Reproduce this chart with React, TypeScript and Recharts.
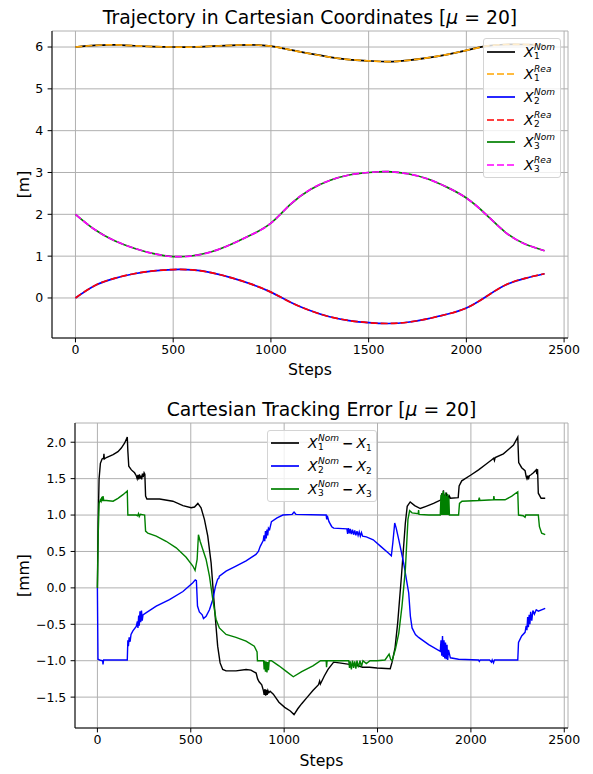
import React from 'react';
import { LineChart, Line, XAxis, YAxis, CartesianGrid, Legend } from 'recharts';

const FONT = "'DejaVu Sans', 'Liberation Sans', sans-serif";

// ---------- Trajectory in Cartesian coordinates (metres) ----------
const steps = [0, 100, 200, 300, 400, 500, 600, 700, 800, 900, 1000, 1100, 1200, 1300, 1400, 1500, 1600, 1700, 1800, 1900, 2000, 2100, 2200, 2300, 2400];
const x1Nom = [6.0, 6.04, 6.05, 6.03, 6.01, 6.0, 6.0, 6.02, 6.04, 6.05, 6.02, 5.93, 5.84, 5.76, 5.7, 5.67, 5.65, 5.68, 5.74, 5.82, 5.92, 6.02, 6.06, 6.06, 6.05];
const x1Rea = [6.0, 6.04, 6.05, 6.03, 6.01, 6.0, 6.0, 6.02, 6.04, 6.05, 6.02, 5.93, 5.84, 5.76, 5.7, 5.67, 5.65, 5.68, 5.74, 5.82, 5.92, 6.02, 6.06, 6.06, 6.05];
const x2Nom = [0.0, 0.3, 0.47, 0.58, 0.65, 0.68, 0.67, 0.6, 0.48, 0.33, 0.14, -0.1, -0.3, -0.45, -0.54, -0.59, -0.61, -0.58, -0.5, -0.39, -0.24, 0.03, 0.31, 0.47, 0.58];
const x2Rea = [0.0, 0.3, 0.47, 0.58, 0.65, 0.68, 0.67, 0.6, 0.48, 0.33, 0.14, -0.1, -0.3, -0.45, -0.54, -0.59, -0.61, -0.58, -0.5, -0.39, -0.24, 0.03, 0.31, 0.47, 0.58];
const x3Nom = [2.0, 1.63, 1.37, 1.19, 1.06, 0.99, 1.01, 1.11, 1.29, 1.51, 1.79, 2.24, 2.59, 2.81, 2.94, 3.0, 3.02, 2.97, 2.85, 2.65, 2.39, 2.0, 1.57, 1.29, 1.13];
const x3Rea = [2.0, 1.63, 1.37, 1.19, 1.06, 0.99, 1.01, 1.11, 1.29, 1.51, 1.79, 2.24, 2.59, 2.81, 2.94, 3.0, 3.02, 2.97, 2.85, 2.65, 2.39, 2.0, 1.57, 1.29, 1.13];

// ---------- Tracking error (millimetres), [step, value] ----------
const err1: [number, number][] = [[0,0],[4,0.9],[9,1.5],[16,1.71],[25,1.77],[33,1.78],[35,1.84],[37,1.77],[48,1.79],[66,1.81],[84,1.83],[110,1.87],[128,1.92],[146,1.99],[160,2.07],[163,1.88],[168,1.67],[182,1.62],[199,1.58],[208,1.54],[213,1.5],[217,1.55],[221,1.49],[225,1.56],[229,1.5],[233,1.54],[237,1.49],[241,1.57],[245,1.52],[250,1.58],[254,1.56],[258,1.26],[265,1.22],[333,1.22],[404,1.19],[458,1.13],[502,1.1],[520,1.11],[538,1.16],[555,1.1],[573,0.94],[591,0.71],[609,0.34],[621,-0.07],[632,-0.43],[644,-0.8],[657,-1.03],[671,-1.12],[689,-1.14],[742,-1.14],[796,-1.12],[822,-1.13],[850,-1.17],[858,-1.25],[866,-1.29],[880,-1.33],[889,-1.41],[893,-1.47],[897,-1.39],[901,-1.48],[905,-1.4],[909,-1.47],[913,-1.41],[918,-1.44],[925,-1.42],[942,-1.46],[972,-1.57],[1003,-1.64],[1033,-1.69],[1053,-1.74],[1073,-1.66],[1094,-1.59],[1124,-1.5],[1154,-1.41],[1184,-1.33],[1190,-1.28],[1194,-1.32],[1215,-1.21],[1235,-1.12],[1265,-1.02],[1295,-1.03],[1350,-1.05],[1396,-1.07],[1420,-1.09],[1457,-1.09],[1497,-1.1],[1568,-1.11],[1578,-1.02],[1594,-0.82],[1608,-0.48],[1628,0.16],[1649,0.89],[1659,1.12],[1675,1.18],[1699,1.13],[1729,1.09],[1760,1.12],[1800,1.16],[1840,1.21],[1845,1.3],[1849,1.19],[1853,1.34],[1857,1.2],[1861,1.28],[1865,1.21],[1869,1.31],[1873,1.22],[1877,1.27],[1881,1.22],[1885,1.26],[1891,1.23],[1932,1.24],[1937,1.4],[1951,1.47],[2000,1.55],[2041,1.62],[2077,1.69],[2112,1.76],[2122,1.78],[2126,1.75],[2130,1.79],[2174,1.84],[2201,1.9],[2228,1.96],[2251,2.07],[2256,1.72],[2272,1.65],[2290,1.61],[2296,1.53],[2300,1.5],[2304,1.54],[2308,1.49],[2313,1.54],[2320,1.55],[2335,1.58],[2350,1.62],[2353,1.56],[2357,1.63],[2361,1.3],[2376,1.23],[2398,1.23]];

const err2: [number, number][] = [[0,0],[3,-0.98],[12,-0.99],[28,-1.0],[30,-1.05],[33,-0.99],[48,-0.99],[100,-0.99],[160,-0.99],[163,-0.72],[166,-0.8],[170,-0.68],[175,-0.74],[180,-0.64],[190,-0.59],[208,-0.53],[214,-0.46],[217,-0.55],[221,-0.38],[224,-0.52],[228,-0.32],[232,-0.47],[236,-0.31],[240,-0.45],[244,-0.37],[262,-0.34],[315,-0.25],[386,-0.16],[458,-0.05],[511,0.07],[524,0.11],[530,0.1],[536,-0.25],[546,-0.33],[561,-0.37],[568,-0.42],[582,-0.39],[600,-0.3],[618,-0.16],[632,0.02],[644,0.12],[650,0.13],[653,0.16],[689,0.23],[742,0.3],[796,0.37],[849,0.46],[862,0.5],[872,0.57],[888,0.65],[892,0.72],[896,0.64],[900,0.78],[904,0.68],[908,0.8],[912,0.72],[916,0.82],[922,0.8],[932,0.91],[962,0.96],[993,1.0],[1043,1.01],[1053,1.04],[1063,1.01],[1215,1.0],[1225,1.0],[1228,0.94],[1231,0.99],[1240,0.91],[1255,0.84],[1265,0.82],[1336,0.81],[1340,0.74],[1344,0.82],[1350,0.75],[1354,0.81],[1360,0.74],[1366,0.8],[1372,0.73],[1378,0.79],[1384,0.72],[1390,0.78],[1396,0.72],[1402,0.77],[1408,0.71],[1414,0.76],[1420,0.71],[1440,0.7],[1477,0.66],[1517,0.57],[1558,0.48],[1574,0.44],[1582,0.62],[1592,0.89],[1600,0.82],[1614,0.66],[1640,0.34],[1667,-0.07],[1676,-0.39],[1685,-0.55],[1703,-0.64],[1720,-0.68],[1774,-0.78],[1836,-0.87],[1840,-0.72],[1844,-0.93],[1848,-0.66],[1852,-0.95],[1856,-0.72],[1860,-0.97],[1864,-0.75],[1868,-0.98],[1872,-0.78],[1876,-0.99],[1880,-0.85],[1890,-0.96],[1934,-0.98],[2041,-0.99],[2045,-1.01],[2050,-0.99],[2100,-0.99],[2110,-1.02],[2114,-0.99],[2121,-1.03],[2126,-0.99],[2251,-0.99],[2255,-0.75],[2272,-0.66],[2290,-0.61],[2296,-0.52],[2300,-0.58],[2304,-0.4],[2308,-0.54],[2312,-0.37],[2316,-0.5],[2320,-0.33],[2326,-0.45],[2332,-0.31],[2340,-0.36],[2350,-0.3],[2361,-0.32],[2398,-0.28]];

const err3: [number, number][] = [[0,0],[4,0.7],[9,1.16],[16,1.21],[20,1.19],[24,1.25],[27,1.19],[30,1.26],[34,1.2],[48,1.2],[84,1.19],[110,1.23],[137,1.28],[160,1.33],[163,1.0],[208,1.0],[215,0.99],[220,1.02],[224,0.98],[230,1.01],[253,1.0],[258,0.78],[270,0.75],[315,0.71],[368,0.64],[422,0.55],[475,0.42],[511,0.3],[523,0.24],[534,0.39],[541,0.73],[550,0.64],[564,0.53],[582,0.39],[600,0.16],[618,-0.16],[635,-0.43],[653,-0.55],[689,-0.64],[742,-0.68],[796,-0.73],[840,-0.8],[855,-0.88],[857,-1.0],[890,-1.0],[893,-1.12],[896,-1.0],[900,-1.15],[904,-1.01],[908,-1.16],[912,-1.02],[916,-1.13],[920,-1.0],[932,-1.0],[972,-1.07],[1013,-1.15],[1049,-1.22],[1094,-1.15],[1154,-1.07],[1195,-1.0],[1225,-1.0],[1227,-1.09],[1230,-1.0],[1346,-1.0],[1350,-1.1],[1354,-1.01],[1360,-1.12],[1366,-1.0],[1372,-1.1],[1378,-1.01],[1384,-1.11],[1390,-1.0],[1398,-1.09],[1406,-1.0],[1414,-1.08],[1422,-1.0],[1440,-1.04],[1460,-1.0],[1497,-1.0],[1540,-0.99],[1562,-0.91],[1570,-0.98],[1578,-1.0],[1596,-0.84],[1614,-0.62],[1631,-0.25],[1649,0.25],[1663,0.94],[1672,1.06],[1685,1.03],[1718,1.02],[1720,1.07],[1722,1.01],[1774,1.0],[1836,1.0],[1840,1.28],[1843,1.0],[1846,1.3],[1849,1.0],[1852,1.33],[1855,1.0],[1858,1.27],[1861,1.0],[1864,1.31],[1867,1.0],[1870,1.26],[1873,1.0],[1876,1.29],[1879,1.0],[1882,1.24],[1885,1.0],[1934,1.0],[1939,1.16],[1952,1.19],[2041,1.2],[2045,1.24],[2048,1.2],[2121,1.21],[2123,1.26],[2126,1.21],[2183,1.21],[2219,1.26],[2251,1.32],[2255,1.0],[2280,0.99],[2290,0.97],[2294,1.0],[2361,1.0],[2367,0.84],[2379,0.75],[2398,0.73]];

// ---------- axis ticks ----------
const stepTicks = [0, 500, 1000, 1500, 2000, 2500];
const metreTicks = [0, 1, 2, 3, 4, 5, 6];
const mmTicks = [-1.5, -1.0, -0.5, 0.0, 0.5, 1.0, 1.5, 2.0];

const trajRows = steps.map((s, i) => ({
  step: s,
  x1Nom: x1Nom[i], x1Rea: x1Rea[i],
  x2Nom: x2Nom[i], x2Rea: x2Rea[i],
  x3Nom: x3Nom[i], x3Rea: x3Rea[i],
}));
const toRows = (arr: [number, number][]) => arr.map(([step, value]) => ({ step, value }));

const DASH = '7 3';
const tickStyle = { fontSize: 12.5, fill: '#000', fontFamily: FONT };
const minusFmt = (v: number) => (v < 0 ? '\u2212' : '') + Math.abs(v).toFixed(1);

type LegendRow = { color: string; dashed: boolean; idx: number; sup: string; diff?: boolean };

const trajLegend: LegendRow[] = [
  { color: '#000000', dashed: false, idx: 1, sup: 'Nom' },
  { color: '#ffa500', dashed: true, idx: 1, sup: 'Rea' },
  { color: '#0000ff', dashed: false, idx: 2, sup: 'Nom' },
  { color: '#ff0000', dashed: true, idx: 2, sup: 'Rea' },
  { color: '#008000', dashed: false, idx: 3, sup: 'Nom' },
  { color: '#ff00ff', dashed: true, idx: 3, sup: 'Rea' },
];
const errLegend: LegendRow[] = [
  { color: '#000000', dashed: false, idx: 1, sup: 'Nom', diff: true },
  { color: '#0000ff', dashed: false, idx: 2, sup: 'Nom', diff: true },
  { color: '#008000', dashed: false, idx: 3, sup: 'Nom', diff: true },
];

function MathLabel({ idx, sup, diff }: { idx: number; sup: string; diff?: boolean }) {
  return (
    <span style={{ display: 'inline-flex', alignItems: 'center', fontFamily: FONT, color: '#000', whiteSpace: 'nowrap' }}>
      <span style={{ fontStyle: 'italic', fontSize: 14 }}>X</span>
      <span style={{ display: 'inline-flex', flexDirection: 'column', fontSize: 9, lineHeight: '9px', marginLeft: 0.5 }}>
        <span style={{ fontStyle: 'italic' }}>{sup}</span>
        <span>{idx}</span>
      </span>
      {diff ? (
        <>
          <span style={{ fontSize: 13.5, fontWeight: 'bold', margin: '0 3px' }}>{'\u2212'}</span>
          <span style={{ fontStyle: 'italic', fontSize: 14 }}>X</span>
          <span style={{ fontSize: 9, alignSelf: 'flex-end', marginBottom: -1 }}>{idx}</span>
        </>
      ) : null}
    </span>
  );
}

function LegendBox({ rows, width, height, rowH, padTop }: { rows: LegendRow[]; width: number; height: number; rowH: number; padTop: number }) {
  return (
    <div
      style={{
        width, height, boxSizing: 'border-box', border: '1px solid #d4d4d4', borderRadius: 3,
        background: 'rgba(255,255,255,0.8)', paddingTop: padTop,
      }}
    >
      {rows.map((r, i) => (
        <div key={i} style={{ display: 'flex', alignItems: 'center', height: rowH }}>
          <svg width={28} height={4} style={{ marginLeft: 3, marginRight: 9, flex: 'none' }}>
            <line x1={0} y1={2} x2={28} y2={2} stroke={r.color} strokeWidth={1.7} strokeDasharray={r.dashed ? DASH : undefined} />
          </svg>
          <MathLabel idx={r.idx} sup={r.sup} diff={r.diff} />
        </div>
      ))}
    </div>
  );
}

function TrajectoryChart() {
  const lines = [
    { key: 'x1Nom', color: '#000000', dashed: false },
    { key: 'x1Rea', color: '#ffa500', dashed: true },
    { key: 'x2Nom', color: '#0000ff', dashed: false },
    { key: 'x2Rea', color: '#ff0000', dashed: true },
    { key: 'x3Nom', color: '#008000', dashed: false },
    { key: 'x3Rea', color: '#ff00ff', dashed: true },
  ];
  return (
    <LineChart width={593} height={380} data={trajRows} margin={{ top: 31, right: 25, left: 0, bottom: 0 }}>
      <CartesianGrid stroke="#b0b0b0" strokeWidth={1} />
      <XAxis type="number" dataKey="step" domain={[-120, 2520]} ticks={stepTicks} allowDataOverflow interval={0}
        height={42} tickSize={4.4} tickMargin={3} tick={tickStyle} axisLine={{ stroke: '#000' }} tickLine={{ stroke: '#000' }} />
      <XAxis xAxisId="frameTop" orientation="top" type="number" domain={[0, 1]} height={0} tick={false} tickLine={false} axisLine={{ stroke: '#000' }} />
      <YAxis type="number" domain={[-0.957, 6.383]} ticks={metreTicks} allowDataOverflow interval={0}
        width={52} tickSize={4.4} tickMargin={4.3} tick={tickStyle} axisLine={{ stroke: '#000' }} tickLine={{ stroke: '#000' }} />
      <YAxis yAxisId="frameRight" orientation="right" type="number" domain={[0, 1]} width={0} tick={false} tickLine={false} axisLine={{ stroke: '#000' }} />
      {lines.map((l) => (
        <Line key={l.key} type="natural" dataKey={l.key} stroke={l.color} strokeWidth={1.7}
          strokeDasharray={l.dashed ? DASH : undefined} dot={false} activeDot={false} isAnimationActive={false} />
      ))}
      <Legend layout="vertical" align="center" verticalAlign="middle"
        wrapperStyle={{ left: 483, top: 38, width: 78, height: 140 }}
        content={() => <LegendBox rows={trajLegend} width={78} height={140} rowH={22.6} padTop={1.5} />} />
    </LineChart>
  );
}

function ErrorChart() {
  const series = [
    { name: 'e1', data: toRows(err1), color: '#000000' },
    { name: 'e2', data: toRows(err2), color: '#0000ff' },
    { name: 'e3', data: toRows(err3), color: '#008000' },
  ];
  return (
    <LineChart width={593} height={384} margin={{ top: 33, right: 25, left: 0, bottom: 0 }}>
      <CartesianGrid stroke="#b0b0b0" strokeWidth={1} />
      <XAxis type="number" dataKey="step" domain={[-120, 2520]} ticks={stepTicks} allowDataOverflow interval={0}
        height={46} tickSize={4.4} tickMargin={3} tick={tickStyle} axisLine={{ stroke: '#000' }} tickLine={{ stroke: '#000' }} />
      <XAxis xAxisId="frameTop" orientation="top" type="number" domain={[0, 1]} height={0} tick={false} tickLine={false} axisLine={{ stroke: '#000' }} />
      <YAxis type="number" domain={[-1.924, 2.264]} ticks={mmTicks} allowDataOverflow interval={0} tickFormatter={minusFmt}
        width={75} tickSize={4.4} tickMargin={4.3} tick={tickStyle} axisLine={{ stroke: '#000' }} tickLine={{ stroke: '#000' }} />
      <YAxis yAxisId="frameRight" orientation="right" type="number" domain={[0, 1]} width={0} tick={false} tickLine={false} axisLine={{ stroke: '#000' }} />
      {series.map((s) => (
        <Line key={s.name} data={s.data} type="linear" dataKey="value" stroke={s.color} strokeWidth={1.4}
          dot={false} activeDot={false} isAnimationActive={false} />
      ))}
      <Legend layout="vertical" align="center" verticalAlign="middle"
        wrapperStyle={{ left: 267, top: 40, width: 110, height: 72 }}
        content={() => <LegendBox rows={errLegend} width={110} height={72} rowH={23} padTop={0} />} />
    </LineChart>
  );
}

export default function App() {
  return (
    <div style={{ position: 'absolute', left: 0, top: 0, width: 593, height: 774, background: '#fff', fontFamily: FONT }}>
      <div style={{ position: 'absolute', left: 0, top: 0 }}>
        <TrajectoryChart />
      </div>
      <div style={{ position: 'absolute', left: 0, top: 390 }}>
        <ErrorChart />
      </div>
      <svg width={593} height={774} style={{ position: 'absolute', left: 0, top: 0, pointerEvents: 'none' }}>
        <g fontFamily={FONT} fill="#000">
          <text x={310} y={24} textAnchor="middle" fontSize={18.8}>
            Trajectory in Cartesian Coordinates [<tspan fontStyle="italic">μ</tspan> = 20]
          </text>
          <text x={310} y={375} textAnchor="middle" fontSize={15.7}>Steps</text>
          <text x={29} y={184.5} textAnchor="middle" fontSize={15.7} transform="rotate(-90 29 184.5)">[m]</text>
          <text x={321.5} y={415.5} textAnchor="middle" fontSize={18.8}>
            Cartesian Tracking Error [<tspan fontStyle="italic">μ</tspan> = 20]
          </text>
          <text x={321.5} y={766} textAnchor="middle" fontSize={15.7}>Steps</text>
          <text x={28.5} y={575.5} textAnchor="middle" fontSize={15.7} transform="rotate(-90 28.5 575.5)">[mm]</text>
        </g>
      </svg>
    </div>
  );
}
